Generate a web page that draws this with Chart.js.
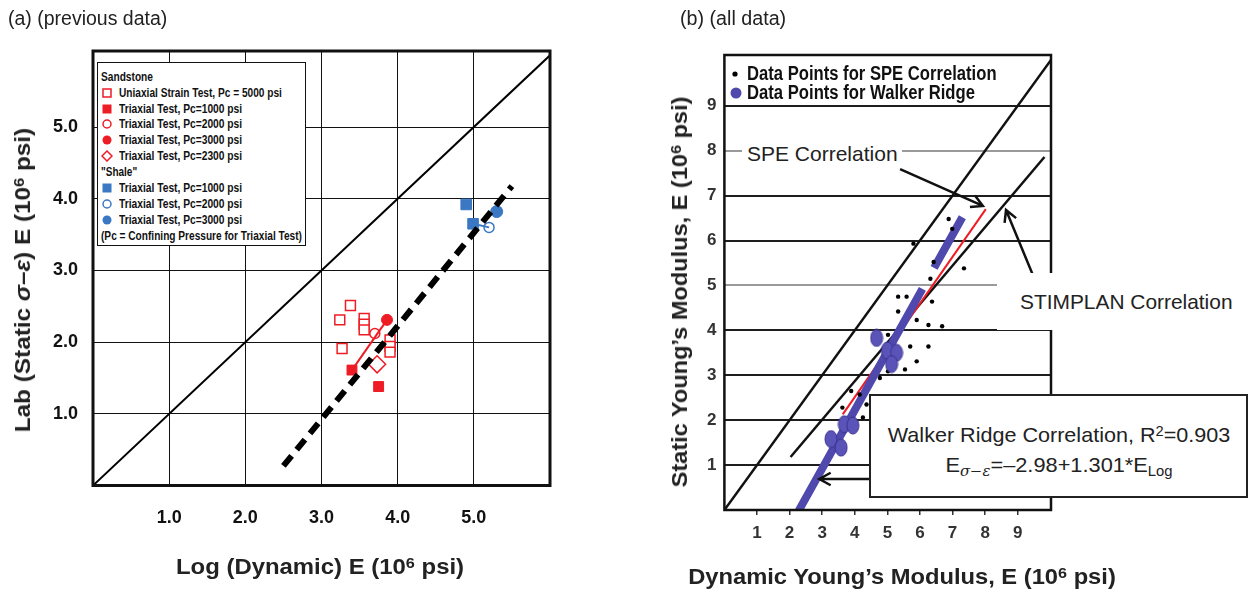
<!DOCTYPE html>
<html>
<head>
<meta charset="utf-8">
<script src="https://cdn.jsdelivr.net/npm/chart.js@4.4.1/dist/chart.umd.min.js"></script>
<style>
  html, body { margin: 0; padding: 0; background: #fff; }
  body { width: 1250px; height: 590px; position: relative; overflow: hidden;
         font-family: 'Liberation Sans', Arial, sans-serif; color: #222; }
  canvas { position: absolute; top: 0; }
  #chartA { left: 0; }
  #chartB { left: 640px; }
  .txt { position: absolute; white-space: nowrap; line-height: 1; }
  .b { font-weight: bold; }
  .bk { font-weight: bold; color: #111; }
  .rot { transform: translate(-50%, -50%) rotate(-90deg); }
  .ctr { transform: translate(-50%, -50%); }
  .lft { transform-origin: 0 50%; }
  sup { font-size: 0.68em; vertical-align: 0.42em; line-height: 0; }
  sub { font-size: 0.68em; vertical-align: -0.3em; line-height: 0; }
  .legA { position: absolute; left: 97px; top: 62px; width: 207px; height: 182px;
          border: 1.5px solid #111; background: #fff; }
  .legA .row { position: absolute; left: 3px; height: 12px; line-height: 12px; font-size: 12.5px;
               white-space: nowrap; transform-origin: 0 50%; }
  .legA .row.item { left: 21px; }
  .legA svg { position: absolute; left: 3px; width: 12px; height: 12px; }
  .note { position: absolute; background: #fff; color: #222; }
  .note span { position: absolute; white-space: nowrap; font-size: 21px; line-height: 1; transform-origin: 0 50%; }
  .box { position: absolute; left: 869px; top: 394px; width: 375px; height: 100px;
         border: 2px solid #222; background: #fff; font-size: 21px; color: #222; }
  .box div { position: absolute; left: 50%; white-space: nowrap; line-height: 1; }
</style>
</head>
<body>
<canvas id="chartA" width="600" height="590"></canvas>
<canvas id="chartB" width="610" height="590"></canvas>

<div class="txt lft" data-w="159" style="left:8px; top:9px; font-size:19.5px;">(a) (previous data)</div>
<div class="txt lft" data-w="106" style="left:680px; top:9px; font-size:19.5px;">(b) (all data)</div>

<div class="txt b rot" data-w="305" style="left:23px; top:280px; font-size:22px;">Lab (Static <i>σ–ε</i>) E (10<sup>6</sup> psi)</div>
<div class="txt b ctr" data-w="288" style="left:320px; top:567px; font-size:22px;">Log (Dynamic) E (10<sup>6</sup> psi)</div>
<div class="txt b rot" data-w="391" style="left:680px; top:292px; font-size:22px;">Static Young’s Modulus, E (10<sup>6</sup> psi)</div>
<div class="txt b ctr" data-w="428" style="left:902px; top:577px; font-size:22px;">Dynamic Young’s Modulus, E (10<sup>6</sup> psi)</div>

<!-- legend, panel a -->
<div class="legA bk">
  <div class="row" data-w="52" style="top:8px;">Sandstone</div>
  <svg style="top:24px"><rect x="2" y="2" width="8" height="8" fill="none" stroke="#ee1c25" stroke-width="1.5"/></svg>
  <div class="row item" data-w="163" style="top:24px;">Uniaxial Strain Test, Pc = 5000 psi</div>
  <svg style="top:39.5px"><rect x="1.5" y="1.5" width="9" height="9" fill="#ee1c25"/></svg>
  <div class="row item" data-w="123" style="top:39.5px;">Triaxial Test, Pc=1000 psi</div>
  <svg style="top:55px"><circle cx="6" cy="6" r="4" fill="none" stroke="#ee1c25" stroke-width="1.5"/></svg>
  <div class="row item" data-w="123" style="top:55px;">Triaxial Test, Pc=2000 psi</div>
  <svg style="top:71px"><circle cx="6" cy="6" r="4.5" fill="#ee1c25"/></svg>
  <div class="row item" data-w="123" style="top:71px;">Triaxial Test, Pc=3000 psi</div>
  <svg style="top:87px"><path d="M6 1 L11 6 L6 11 L1 6 Z" fill="none" stroke="#ee1c25" stroke-width="1.5"/></svg>
  <div class="row item" data-w="123" style="top:87px;">Triaxial Test, Pc=2300 psi</div>
  <div class="row" data-w="36" style="top:103px;">"Shale"</div>
  <svg style="top:119px"><rect x="1.5" y="1.5" width="9" height="9" fill="#3b78c4"/></svg>
  <div class="row item" data-w="123" style="top:119px;">Triaxial Test, Pc=1000 psi</div>
  <svg style="top:135px"><circle cx="6" cy="6" r="4" fill="none" stroke="#3b78c4" stroke-width="1.5"/></svg>
  <div class="row item" data-w="123" style="top:135px;">Triaxial Test, Pc=2000 psi</div>
  <svg style="top:151px"><circle cx="6" cy="6" r="4.5" fill="#3b78c4"/></svg>
  <div class="row item" data-w="123" style="top:151px;">Triaxial Test, Pc=3000 psi</div>
  <div class="row" data-w="201" style="top:167px;">(Pc = Confining Pressure for Triaxial Test)</div>
</div>

<!-- legend, panel b -->
<svg style="position:absolute; left:729px; top:66px; width:14px; height:34px;">
  <circle cx="6" cy="8" r="2.6" fill="#000"/>
  <circle cx="7" cy="27" r="5.5" fill="#5049ad"/>
</svg>
<div class="txt bk lft" data-w="250" style="left:747px; top:64px; font-size:19.5px;">Data Points for SPE Correlation</div>
<div class="txt bk lft" data-w="228" style="left:747px; top:83px; font-size:19.5px;">Data Points for Walker Ridge</div>

<div class="note" style="left:742px; top:139px; width:160px; height:28px;">
  <span data-w="151" style="left:5px; top:4px;">SPE Correlation</span>
</div>
<div class="note" style="left:997px; top:273px; width:253px; height:57px;">
  <span data-w="213" style="left:23px; top:18px;">STIMPLAN Correlation</span>
</div>
<div class="box">
  <div data-w="342" style="top:28px; transform:translateX(-50%);">Walker Ridge Correlation, R<sup>2</sup>=0.903</div>
  <div data-w="227" style="top:58px; transform:translateX(-50%);">E<sub><i style="font-family:'DejaVu Serif',serif;">σ−ε</i></sub>=–2.98+1.301*E<sub>Log</sub></div>
</div>

<script>
// ---------- panel (a): lab data ----------
const aTickValues = [1, 2, 3, 4, 5];
const aTickLabels = ['1.0', '2.0', '3.0', '4.0', '5.0'];

// sandstone
const sandUniaxial = [[3.38, 2.51], [3.24, 2.31], [3.56, 2.33], [3.56, 2.25], [3.56, 2.17],
                      [3.27, 1.91], [3.90, 2.03], [3.90, 1.94], [3.90, 1.86]];
const sandTriax1000 = [[3.40, 1.61], [3.75, 1.38]];
const sandTriax2000 = [[3.70, 2.12]];
const sandTriax3000 = [[3.86, 2.31]];
const sandTriax2300 = [[3.73, 1.69]];
const sandTrend = [[3.40, 1.61], [3.86, 2.31]];

// shale
const shaleTriax1000 = [[4.90, 3.92], [4.99, 3.65]];
const shaleTriax2000 = [[5.20, 3.60]];
const shaleTriax3000 = [[5.30, 3.82]];
const shaleTrend = [[4.99, 3.65], [5.20, 3.60]];

const equalityA = [[0, 0], [6, 6]];

// Walker Ridge fit: E = -2.98 + 1.301 * E_log
const walkerIntercept = -2.98;
const walkerSlope = 1.301;
const walkerSpanA = [2.5, 5.5];

// ---------- panel (b): all data ----------
const bTickValues = [1, 2, 3, 4, 5, 6, 7, 8, 9];
const bTickLabels = ['1', '2', '3', '4', '5', '6', '7', '8', '9'];

const speData = [[6.88, 6.48], [6.99, 6.26], [5.80, 5.93], [6.42, 5.52], [7.35, 5.38], [6.32, 5.15],
                 [5.33, 4.75], [5.59, 4.75], [6.37, 4.64], [5.33, 4.42], [5.90, 4.23], [6.26, 4.12],
                 [6.68, 4.09], [5.02, 3.90], [5.70, 3.64], [6.26, 3.64], [5.90, 3.31], [5.02, 3.09],
                 [5.54, 3.13], [4.77, 2.94], [3.89, 2.65], [4.15, 2.57], [4.36, 2.35], [3.62, 2.28],
                 [4.25, 2.06]];
const walkerData = [[3.27, 1.58], [3.58, 1.39], [3.68, 1.91], [3.94, 1.88],
                    [4.67, 3.83], [5.00, 3.55], [5.28, 3.50], [5.13, 3.25]];
const speLine = [[0, 0], [10.02, 10.02]];
const stimplanLine = [[2.03, 1.18], [9.82, 7.86]];
const speFit = [[3.63, 2.13], [8.02, 6.70]];
const walkerSpanB = [7.3, 2.28];

// call-out arrows, [from, to] in axis units
const arrowsB = [
  [[5.39, 7.59], [7.93, 6.77]],
  [[9.47, 5.22], [8.64, 6.68]],
  [[4.46, 0.69], [2.91, 0.69]]
];

const pts = arr => arr.map(([x, y]) => ({ x, y }));
const fitLine = span => span.map(x => ({ x, y: walkerIntercept + walkerSlope * x }));

const RED = '#ee1c25';
const BLUE = '#3b78c4';
const PURPLE = '#5049ad';
const tickFont = size => ({ family: "'Liberation Sans', Arial, sans-serif", size: size, weight: 'bold' });

// outline of the plot area
const framePlugin = {
  id: 'frame',
  afterDraw(chart, args, opts) {
    const { ctx, chartArea: a } = chart;
    ctx.save();
    ctx.lineWidth = opts.width || 2;
    ctx.strokeStyle = '#111';
    ctx.strokeRect(a.left, a.top, a.right - a.left, a.bottom - a.top);
    ctx.restore();
  }
};

function drawArrow(ctx, x1, y1, x2, y2, head) {
  const ang = Math.atan2(y2 - y1, x2 - x1);
  ctx.beginPath();
  ctx.moveTo(x1, y1);
  ctx.lineTo(x2, y2);
  ctx.moveTo(x2 - head * Math.cos(ang - 0.5), y2 - head * Math.sin(ang - 0.5));
  ctx.lineTo(x2, y2);
  ctx.lineTo(x2 - head * Math.cos(ang + 0.5), y2 - head * Math.sin(ang + 0.5));
  ctx.stroke();
}

const arrowPlugin = {
  id: 'arrows',
  afterDraw(chart) {
    const { ctx, scales: { x, y } } = chart;
    ctx.save();
    ctx.strokeStyle = '#111';
    ctx.lineWidth = 2.5;
    arrowsB.forEach(([p, q]) => {
      drawArrow(ctx, x.getPixelForValue(p[0]), y.getPixelForValue(p[1]),
                x.getPixelForValue(q[0]), y.getPixelForValue(q[1]), 13);
    });
    ctx.restore();
  }
};

function ellipseMarker(w, h, fill, stroke) {
  const c = document.createElement('canvas');
  c.width = w + 2;
  c.height = h + 2;
  const g = c.getContext('2d');
  g.beginPath();
  g.ellipse(c.width / 2, c.height / 2, w / 2, h / 2, 0, 0, Math.PI * 2);
  g.fillStyle = fill;
  g.fill();
  g.lineWidth = 1;
  g.strokeStyle = stroke;
  g.stroke();
  return c;
}

function axis(min, max, values, labels, opts) {
  return {
    type: 'linear', min: min, max: max,
    afterBuildTicks: s => { s.ticks = values.map(v => ({ value: v })); },
    afterFit: opts.fit,
    ticks: {
      callback: v => labels[values.indexOf(v)],
      padding: opts.pad, color: opts.color, font: tickFont(opts.size),
      maxRotation: 0, autoSkip: false
    },
    grid: opts.grid,
    border: { display: false }
  };
}

const common = {
  responsive: false,
  animation: false,
  events: [],
  plugins: { legend: { display: false }, tooltip: { enabled: false } }
};

new Chart(document.getElementById('chartA'), {
  type: 'scatter',
  data: {
    datasets: [
      { data: fitLine(walkerSpanA), showLine: true, pointRadius: 0, borderColor: '#000',
        borderWidth: 6, borderDash: [13, 8], borderCapStyle: 'butt', order: 0 },
      { data: pts(sandTrend), showLine: true, pointRadius: 0, borderColor: RED, borderWidth: 2, order: 1 },
      { data: pts(shaleTrend), showLine: true, pointRadius: 0, borderColor: BLUE, borderWidth: 2, order: 1 },
      { data: pts(sandUniaxial), pointStyle: 'rect', pointRadius: 7, backgroundColor: '#fff',
        borderColor: RED, borderWidth: 1.5, order: 2 },
      { data: pts(sandTriax1000), pointStyle: 'rect', pointRadius: 7, backgroundColor: RED,
        borderColor: RED, borderWidth: 1, order: 2 },
      { data: pts(sandTriax2000), pointStyle: 'circle', pointRadius: 5, backgroundColor: 'rgba(255,255,255,0)',
        borderColor: RED, borderWidth: 1.5, order: 2 },
      { data: pts(sandTriax3000), pointStyle: 'circle', pointRadius: 5.5, backgroundColor: RED,
        borderColor: RED, borderWidth: 1, order: 2 },
      { data: pts(sandTriax2300), pointStyle: 'rectRot', pointRadius: 8.5, backgroundColor: 'rgba(255,255,255,0)',
        borderColor: RED, borderWidth: 1.5, order: 2 },
      { data: pts(shaleTriax1000), pointStyle: 'rect', pointRadius: 7.5, backgroundColor: BLUE,
        borderColor: BLUE, borderWidth: 1, order: 2 },
      { data: pts(shaleTriax2000), pointStyle: 'circle', pointRadius: 5, backgroundColor: '#fff',
        borderColor: BLUE, borderWidth: 1.5, order: 2 },
      { data: pts(shaleTriax3000), pointStyle: 'circle', pointRadius: 6, backgroundColor: BLUE,
        borderColor: BLUE, borderWidth: 1, order: 2 },
      { data: pts(equalityA), showLine: true, pointRadius: 0, borderColor: '#000', borderWidth: 2, order: 3 }
    ]
  },
  options: {
    ...common,
    layout: { padding: { top: 51, right: 50, left: 0, bottom: 0 } },
    scales: {
      x: axis(0, 6, aTickValues, aTickLabels, {
        fit: s => { s.height = 104.5; }, pad: 22, color: '#111', size: 18,
        grid: { color: '#111', lineWidth: 1, drawTicks: false }
      }),
      y: axis(0, 6.06, aTickValues, aTickLabels, {
        fit: s => { s.width = 93; }, pad: 15, color: '#111', size: 18,
        grid: { color: '#111', lineWidth: 1, drawTicks: false }
      })
    },
    plugins: { ...common.plugins, frame: { width: 3 } }
  },
  plugins: [framePlugin]
});

new Chart(document.getElementById('chartB'), {
  type: 'scatter',
  data: {
    datasets: [
      { data: pts(walkerData), pointStyle: ellipseMarker(12, 17, '#5a53b8', '#3a3390'), pointRadius: 8, order: 0 },
      { data: pts(speData), pointStyle: 'circle', pointRadius: 2.2, backgroundColor: '#000',
        borderColor: '#000', borderWidth: 0, order: 1 },
      { data: fitLine(walkerSpanB), showLine: true, pointRadius: 0, borderColor: PURPLE,
        borderWidth: 8, borderDash: [58, 24, 400, 10], borderCapStyle: 'butt', order: 2 },
      { data: pts(speFit), showLine: true, pointRadius: 0, borderColor: RED, borderWidth: 2, order: 3 },
      { data: pts(speLine), showLine: true, pointRadius: 0, borderColor: '#111', borderWidth: 2.5, order: 4 },
      { data: pts(stimplanLine), showLine: true, pointRadius: 0, borderColor: '#111', borderWidth: 2.5, order: 4 }
    ]
  },
  options: {
    ...common,
    layout: { padding: { top: 55, right: 199, left: 0, bottom: 0 } },
    scales: {
      x: axis(0, 10.02, bTickValues, bTickLabels, {
        fit: s => { s.height = 80; }, pad: 8, color: '#333', size: 17,
        grid: { drawOnChartArea: false, drawTicks: true, tickLength: 5, color: '#333', lineWidth: 1.5 }
      }),
      y: axis(0, 10.13, bTickValues, bTickLabels, {
        fit: s => { s.width = 84.4; }, pad: 8, color: '#333', size: 17,
        grid: {
          drawTicks: false, lineWidth: 2,
          color: c => (c.tick && (c.tick.value === 8 || c.tick.value === 5)) ? '#9a9a9a' : '#1e1e1e'
        }
      })
    },
    plugins: { ...common.plugins, frame: { width: 2.5 } }
  },
  plugins: [framePlugin, arrowPlugin]
});

// squeeze text blocks horizontally to their set widths (narrow bold face look)
document.querySelectorAll('[data-w]').forEach(el => {
  const s = parseFloat(el.dataset.w) / el.offsetWidth;
  const pre = el.classList.contains('rot') ? 'translate(-50%, -50%) rotate(-90deg) '
            : el.classList.contains('ctr') ? 'translate(-50%, -50%) '
            : (el.style.transform || '');
  el.style.transform = pre + ' scaleX(' + s.toFixed(3) + ')';
});
</script>
</body>
</html>
